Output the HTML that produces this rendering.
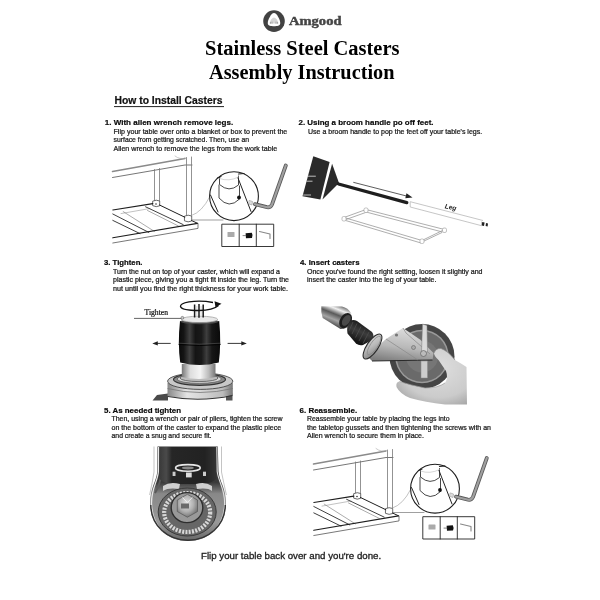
<!DOCTYPE html>
<html><head><meta charset="utf-8"><style>
html,body{margin:0;padding:0;background:#fff;width:600px;height:600px;overflow:hidden}
svg{display:block;filter:grayscale(1)}
</style></head><body>
<svg width="600" height="600" viewBox="0 0 600 600">
<rect width="600" height="600" fill="#fff"/>
<defs>
<linearGradient id="gMetalV" x1="0" y1="0" x2="1" y2="0">
 <stop offset="0" stop-color="#777"/><stop offset="0.25" stop-color="#ddd"/><stop offset="0.55" stop-color="#f4f4f4"/><stop offset="0.8" stop-color="#bbb"/><stop offset="1" stop-color="#777"/>
</linearGradient>
<linearGradient id="gRubber" x1="0" y1="0" x2="1" y2="0">
 <stop offset="0" stop-color="#0a0a0a"/><stop offset="0.12" stop-color="#151515"/><stop offset="0.26" stop-color="#404040"/><stop offset="0.4" stop-color="#141414"/><stop offset="0.55" stop-color="#1a1a1a"/><stop offset="0.67" stop-color="#3e3e3e"/><stop offset="0.8" stop-color="#161616"/><stop offset="1" stop-color="#0a0a0a"/>
</linearGradient>
<linearGradient id="gS5side" x1="0" y1="0" x2="1" y2="0">
 <stop offset="0" stop-color="#f2f2f2"/><stop offset="0.06" stop-color="#555"/><stop offset="0.18" stop-color="#8a8a8a"/><stop offset="0.5" stop-color="#777"/><stop offset="0.82" stop-color="#8a8a8a"/><stop offset="0.94" stop-color="#555"/><stop offset="1" stop-color="#eee"/>
</linearGradient>
<linearGradient id="gDrum" x1="0" y1="0" x2="1" y2="0">
 <stop offset="0" stop-color="#888"/><stop offset="0.3" stop-color="#e4e4e4"/><stop offset="0.6" stop-color="#d0d0d0"/><stop offset="0.85" stop-color="#bbb"/><stop offset="1" stop-color="#777"/>
</linearGradient>
</defs>

<!-- step 1 table drawing -->
<g id="tbl" fill="none" stroke-linecap="round" stroke-linejoin="round">
 <path d="M112.5,171.5 L185,158.5" stroke="#8a8a8a" stroke-width="1.5"/>
 <path d="M112.5,177.5 L185,165 L192,165" stroke="#666" stroke-width="0.9"/>
 <path d="M175,156 Q180,160 185.5,158" stroke="#aaa" stroke-width="0.6"/>
 <path d="M154.5,169.5 V201 M159.5,168.5 V201" stroke="#777" stroke-width="0.8"/>
 <path d="M186.5,157.5 V215.5 M191.5,157 V215.5" stroke="#777" stroke-width="0.8"/>
 <path d="M153,201 Q156.3,199.3 159.7,201 V205.8 Q156.3,207.6 153,205.8 Z" stroke="#444" stroke-width="0.8" fill="#fff"/>
 <circle cx="156" cy="204" r="0.8" fill="#333" stroke="none"/>
 <path d="M184.8,216 Q188.2,214.3 191.7,216 V221 Q188.2,222.8 184.8,221 Z" stroke="#444" stroke-width="0.8" fill="#fff"/>
 <!-- frame -->
 <path d="M112.8,210 L152.8,203.6" stroke="#1e1e1e" stroke-width="1.1"/>
 <path d="M121,213.6 L150,208.5" stroke="#999" stroke-width="0.6"/>
 <path d="M112.8,214 L148.8,232.4" stroke="#2a2a2a" stroke-width="0.9"/>
 <path d="M112.8,220.4 L140,233.6" stroke="#2a2a2a" stroke-width="0.9"/>
 <path d="M123.2,211.6 L154.4,231.4" stroke="#888" stroke-width="0.7"/>
 <path d="M145.6,206.8 L183.2,224.6" stroke="#2a2a2a" stroke-width="0.9"/>
 <path d="M147.5,210.5 L178.4,226" stroke="#888" stroke-width="0.7"/>
 <path d="M159.5,205 L184.8,217.2 M191.5,220.5 L197.5,223.3" stroke="#1e1e1e" stroke-width="1"/>
 <path d="M112.8,237.8 L197.5,223.4" stroke="#1e1e1e" stroke-width="1.15"/>
 <path d="M112.8,243 L198,228.4 L198,223.6" stroke="#555" stroke-width="0.8"/>
 <!-- zoom connectors -->
 <path d="M191.5,215.5 Q202,212 209.6,197" stroke="#999" stroke-width="0.6"/>
 <path d="M192,220 H223" stroke="#777" stroke-width="0.7"/>
 <!-- zoom circle -->
 <circle cx="234" cy="196.2" r="24.4" fill="#fff" stroke="#1e1e1e" stroke-width="1.1"/>
 <path d="M219.5,177.5 V184.5 Q229,193 238.5,185 V176" stroke="#333" stroke-width="0.9"/>
 <path d="M219.5,178.5 Q229,182 238.5,177" stroke="#bbb" stroke-width="0.6"/>
 <path d="M219,185 V198 Q229,209.5 239.5,199 V186" stroke="#333" stroke-width="0.9"/>
 <path d="M217.5,178 L221,176.5 M238.5,174 L244,173.5" stroke="#222" stroke-width="1.2"/>
 <path d="M238,178 L251,211.5" stroke="#222" stroke-width="1"/>
 <path d="M210.5,195 L218,212" stroke="#222" stroke-width="1"/>
 <circle cx="239" cy="197.5" r="1.9" fill="#111" stroke="none"/>
 <path d="M249.5,200.5 L252.5,201.5 L252,205 L249,204 Z" stroke="#999" stroke-width="0.6" fill="#ddd"/>
 <!-- allen key -->
 <path d="M285.8,165.5 L272,204.5 Q270.5,207.8 267,207.2 L255,204.2" stroke="#5a5a5a" stroke-width="3.8"/>
 <path d="M285.8,165.5 L272,204.5 Q270.5,207.8 267,207.2 L255,204.2" stroke="#a0a0a0" stroke-width="2.2"/>
 <!-- 3 cell box -->
 <path d="M222.2,224.2 H273.7 V246.5 H222.2 Z M239.2,224.2 V246.5 M256.3,224.2 V246.5" stroke="#222" stroke-width="0.9"/>
 <rect x="227.5" y="232" width="7" height="5" fill="#aaa" stroke="none" rx="0.6"/>
 <path d="M245.6,233.2 L251.8,232.8 Q253.3,235.5 252,238 L246,238.2 Z" fill="#111" stroke="none"/>
 <path d="M243,235.6 H245.8" stroke="#666" stroke-width="0.8"/>
 <path d="M259.5,231.5 L270,234 L270,238.5" stroke="#888" stroke-width="1.1"/>
</g>
<use href="#tbl" transform="translate(201,292.5)"/>

<!-- step 2 broom -->
<g>
 <path d="M313.3,156.2 L329.6,162 L320.4,199.5 L302.5,196.2 Z" fill="#2a2a2a"/>
 <path d="M307,176.2 H315.8 M306.5,181.2 H312.5 M303.2,195 H311" stroke="#e4e4e4" stroke-width="0.8"/>
 <path d="M332.1,163.7 L339,183 L322.5,199.5 Z" fill="#2a2a2a"/>
 <path d="M338.5,184 L406.8,202.6" stroke="#1e1e1e" stroke-width="3.3" stroke-linecap="round"/>
 <path d="M353.3,182.3 L408,196.4" stroke="#333" stroke-width="0.8"/>
 <path d="M412.5,197.6 L406.5,193.3 L405.3,198.2 Z" fill="#222"/>
 <!-- leg tube -->
 <path d="M410.2,201.7 L483,220.5 M410.2,207 L481.5,225.7 M410.2,201.7 V207" stroke="#b8b8b8" stroke-width="0.8" fill="none"/>
 <path d="M481.5,221.5 L481.5,225.7" stroke="#bbb" stroke-width="0.8"/>
 <path d="M482.2,222 L484.6,222.6 L484,226 L481.8,225.4 Z M486,223 L488,223.5 L487.6,226.6 L485.6,226.1 Z" fill="#222"/>
 <text x="444.8" y="209.3" font-size="6.6" font-style="italic" font-weight="bold" fill="#222" transform="rotate(11 450 207)" style="font-family:'Liberation Sans',sans-serif">Leg</text>
 <!-- frame -->
 <g fill="none" stroke="#999" stroke-width="0.8">
  <path d="M366,209.5 L444.5,229.5 M366,212 L442.5,232"/>
  <path d="M344,217.5 L422,240.5 M344,220 L421,243"/>
  <path d="M366,209.5 L344,217.5 M367,212 L346,219.5"/>
  <path d="M444.5,229.5 L422,240.5 M442,232.5 L423,241.5"/>
 </g>
 <g fill="#fff" stroke="#999" stroke-width="0.6">
  <rect x="364" y="208" width="4" height="4.5" rx="1.5"/>
  <rect x="342" y="216.5" width="4" height="4.5" rx="1.5"/>
  <rect x="420" y="239" width="4" height="4.5" rx="1.5"/>
  <rect x="442.5" y="228" width="4" height="4.5" rx="1.5"/>
 </g>
</g>

<!-- logo -->
<circle cx="274" cy="21.1" r="10.8" fill="#424242"/>
<path d="M274,13 C275.6,13 276.8,14.5 278.2,17 C279.6,19.5 280.5,21.8 280.2,23.8 C279.8,25.8 277,26.2 274,26.2 C271,26.2 268.2,25.8 267.8,23.8 C267.5,21.8 268.4,19.5 269.8,17 C271.2,14.5 272.4,13 274,13 Z" fill="#fff"/>
<path d="M269.5,23.5 Q270.5,18.5 274,17.5 Q277.5,18.5 278.5,23.5 Z" fill="#d6d6d6"/>
<path d="M270.5,22 V23.8 M272,21.6 V23.8 M276,21.6 V23.8 M277.5,22 V23.8" stroke="#888" stroke-width="0.6"/>
<!-- step 3 caster -->
<g>
 <path d="M152.5,400.5 L157,395 L168,393.5 L168,400.5 Z" fill="#4a4a4a"/>
 <path d="M226,395 L232.5,393.5 L232.5,400.5 L226,400.5 Z" fill="#555"/>
 <path d="M167.5,383 H232.8 V395 Q200,402.5 167.5,396 Z" fill="url(#gDrum)"/>
 <path d="M167.5,388.5 Q200,396.5 232.8,388.5" stroke="#777" stroke-width="0.8" fill="none"/>
 <path d="M168,396.5 Q200,402.5 232.5,395.5" stroke="#333" stroke-width="1.2" fill="none"/>
 <ellipse cx="200.2" cy="381.2" rx="32.6" ry="8.2" fill="#c8c8c8" stroke="#444" stroke-width="0.9"/>
 <ellipse cx="199.5" cy="379.5" rx="26" ry="5.8" fill="#8a8a8a" stroke="#333" stroke-width="1.2"/>
 <ellipse cx="199.3" cy="379" rx="22" ry="4.4" fill="#d4d4d4" stroke="#555" stroke-width="0.7"/>
 <ellipse cx="199" cy="378" rx="19" ry="3.6" fill="#bbb" stroke="#555" stroke-width="0.8"/>
 <path d="M181.8,364 H215.5 V377 Q198.6,381 181.8,377 Z" fill="url(#gMetalV)"/>
 <!-- barrel -->
 <path d="M180,321 Q199.5,325.5 219.2,321 Q221.4,343 218.8,362.5 Q199.5,367.5 180.2,362.5 Q177.6,343 180,321 Z" fill="url(#gRubber)"/>
 <path d="M178.6,344.5 Q199.5,346.5 220.6,344.5" stroke="#000" stroke-width="0.9" fill="none"/>
 <path d="M178.6,343.2 Q199.5,345.2 220.6,343.2" stroke="#555" stroke-width="0.6" fill="none"/>
 <!-- top plate -->
 <ellipse cx="199.5" cy="321.4" rx="19" ry="2.8" fill="#4a4a4a"/>
 <ellipse cx="199.5" cy="319.4" rx="18.2" ry="3.2" fill="#e8e8e8" stroke="#888" stroke-width="0.6"/>
 <!-- screws -->
 <path d="M194.6,304.5 V317.5 M199,304 V317.8 M203.2,304.5 V317.5" stroke="#1a1a1a" stroke-width="1.5"/>
 <path d="M196.8,306 V316.5 M201.1,306 V316.5" stroke="#ddd" stroke-width="1.2"/>
 <!-- rotation ellipse -->
 <path d="M213,302.5 Q201,300 189,301.8 Q180,303.5 180.5,306.5 Q181.5,310.5 199,310.5 Q213,310.3 218.5,305.5" stroke="#111" stroke-width="1.3" fill="none"/>
 <path d="M221.5,303.8 L214.5,301.2 L215.5,307.2 Z" fill="#111"/>
 <!-- leader -->
 <path d="M134,318.4 H181" stroke="#222" stroke-width="0.7"/>
 <circle cx="182.4" cy="317.8" r="1.4" fill="#ccc" stroke="#444" stroke-width="0.5"/>
 <text x="144.5" y="314.6" font-size="7.2" fill="#111" stroke="#111" stroke-width="0.2" textLength="23.5" lengthAdjust="spacingAndGlyphs" style="font-family:'Liberation Serif',serif">Tighten</text>
 <!-- arrows -->
 <path d="M156,343.4 H170.7 M227.6,343.4 H243" stroke="#222" stroke-width="0.9"/>
 <path d="M152.3,343.4 L157.8,341.2 L157.8,345.6 Z M246.8,343.4 L241.3,341.2 L241.3,345.6 Z" fill="#222"/>
</g>
<!-- step 4 caster photo -->
<defs>
<linearGradient id="gT4" gradientUnits="userSpaceOnUse" x1="336" y1="304" x2="328" y2="324">
 <stop offset="0" stop-color="#777"/><stop offset="0.2" stop-color="#f0f0f0"/><stop offset="0.45" stop-color="#5a5a5a"/><stop offset="0.7" stop-color="#a5a5a5"/><stop offset="0.9" stop-color="#666"/><stop offset="1" stop-color="#444"/>
</linearGradient>
<linearGradient id="gStem2" gradientUnits="userSpaceOnUse" x1="360" y1="324" x2="353" y2="340">
 <stop offset="0" stop-color="#222"/><stop offset="0.4" stop-color="#3c3c3c"/><stop offset="1" stop-color="#151515"/>
</linearGradient>
<linearGradient id="gBr" gradientUnits="userSpaceOnUse" x1="400" y1="328" x2="395" y2="362">
 <stop offset="0" stop-color="#dcdcdc"/><stop offset="0.55" stop-color="#b8b8b8"/><stop offset="1" stop-color="#7e7e7e"/>
</linearGradient>
<linearGradient id="gCone4" gradientUnits="userSpaceOnUse" x1="384" y1="334" x2="372" y2="362">
 <stop offset="0" stop-color="#e4e4e4"/><stop offset="0.5" stop-color="#bbb"/><stop offset="1" stop-color="#666"/>
</linearGradient>
<radialGradient id="gHand" cx="0.6" cy="0.35" r="0.75">
 <stop offset="0" stop-color="#dedede"/><stop offset="0.7" stop-color="#cbcbcb"/><stop offset="1" stop-color="#a8a8a8"/>
</radialGradient>
<linearGradient id="gTubeC" x1="0" y1="0" x2="0" y2="1">
 <stop offset="0" stop-color="#6a6a6a"/><stop offset="0.3" stop-color="#e6e6e6"/><stop offset="0.45" stop-color="#f6f6f6"/><stop offset="0.75" stop-color="#999"/><stop offset="1" stop-color="#555"/>
</linearGradient>
<linearGradient id="gStem" x1="0" y1="0" x2="0" y2="1">
 <stop offset="0" stop-color="#1a1a1a"/><stop offset="0.35" stop-color="#555"/><stop offset="0.55" stop-color="#2a2a2a"/><stop offset="1" stop-color="#111"/>
</linearGradient>
</defs>
<g>
 <!-- wheel -->
 <circle cx="422" cy="356.5" r="32.5" fill="#454545"/>
 <circle cx="422" cy="356.5" r="26.8" fill="#9a9a9a"/>
 <circle cx="422" cy="356.5" r="25.3" fill="#6a6a6a"/>
 <circle cx="422" cy="356.5" r="16" fill="#767676"/>
 <!-- tube -->
 <path d="M321.3,306.3 L342,306.6 Q348,308 351,313 Q353,319 351,324 Q347.5,329 340.5,329 L322.7,318 Q320.6,312 321.3,306.3 Z" fill="url(#gT4)"/>
 <ellipse cx="345.6" cy="320.6" rx="5.6" ry="8.2" transform="rotate(32 345.6 320.6)" fill="#1e1e1e"/>
 <ellipse cx="346.3" cy="320.4" rx="3.6" ry="6" transform="rotate(32 346.3 320.4)" fill="#4a4a4a"/>
 <!-- stem -->
 <path d="M350.5,320.5 Q354,319.5 357,321 L372,332 Q375,336 372,340 L363,345 Q359,346 356,343.5 L347.5,333.5 Q346,326 350.5,320.5 Z" fill="url(#gStem2)"/>
 <path d="M353,322 L349,331 M357,323.5 L352,334 M361,326.5 L355.5,337.5 M365,329.5 L359,341 M369,332 L363,343.5" stroke="#4e4e4e" stroke-width="0.8"/>
 <!-- bracket / cone -->
 <path d="M367,356 L386,339 L403,328 L420,339.5 L433.5,353 L432.5,360 L372,361 Z" fill="url(#gBr)"/>
 <path d="M372,361 L432.5,360" stroke="#2a2a2a" stroke-width="1.1"/>
 <path d="M386,339 L418,360 M403,328 L406,333 L430,354" stroke="#888" stroke-width="0.7" fill="none"/>
 <ellipse cx="372.5" cy="346.5" rx="14.6" ry="5.6" transform="rotate(-56 372.5 346.5)" fill="url(#gCone4)" stroke="#2a2a2a" stroke-width="1.1"/>
 <ellipse cx="374" cy="345.5" rx="11" ry="3.6" transform="rotate(-56 374 345.5)" fill="none" stroke="#888" stroke-width="0.7"/>
 <circle cx="396.5" cy="335" r="1.6" fill="#777"/>
 <circle cx="413.5" cy="347.5" r="2" fill="#aaa" stroke="#555" stroke-width="0.5"/>
 <!-- brake lever -->
 <path d="M422.5,324 L427,325.5 L427.5,352 L421.5,352 Z" fill="#dadada" stroke="#777" stroke-width="0.5"/>
 <circle cx="423.5" cy="353.5" r="3" fill="#bbb" stroke="#555" stroke-width="0.6"/>
 <rect x="421" y="361" width="6.5" height="17" fill="#cdcdcd" stroke="#888" stroke-width="0.5"/>
 <!-- hand -->
 <path d="M434,353 Q436,348 441,348.5 Q448,351 455,360 Q462,364 466.5,367 L467,404.5 L445,404.5 Q425,402 410,398 Q400,394 396.5,387 Q395.5,382 399.5,381.5 Q410,385 425,388 Q438,388 445,383 Q448.5,378 446,371 L438.5,360 Q434,356 434,353 Z" fill="url(#gHand)"/>
 <path d="M434,353 Q436,348 441,348.5 Q448,351 455,360" stroke="#8a8a8a" stroke-width="0.7" fill="none"/>
 <path d="M399.5,381.5 Q410,385 425,388 Q438,388 445,383" stroke="#9a9a9a" stroke-width="0.7" fill="none"/>
</g>
<!-- step 5 photo -->
<defs>
<radialGradient id="gS5nut" cx="0.45" cy="0.4" r="0.6">
 <stop offset="0" stop-color="#e4e4e4"/><stop offset="0.6" stop-color="#b0b0b0"/><stop offset="1" stop-color="#777"/>
</radialGradient>
<linearGradient id="gS5top" x1="0" y1="0" x2="1" y2="0">
 <stop offset="0" stop-color="#3a3a3a"/><stop offset="0.12" stop-color="#4a4a4a"/><stop offset="0.22" stop-color="#262626"/><stop offset="0.8" stop-color="#222"/><stop offset="1" stop-color="#333"/>
</linearGradient>
<linearGradient id="gS5v" x1="0" y1="0" x2="0" y2="1">
 <stop offset="0" stop-color="#333"/><stop offset="0.38" stop-color="#3a3a3a"/><stop offset="0.5" stop-color="#888"/><stop offset="0.8" stop-color="#999"/><stop offset="1" stop-color="#666"/>
</linearGradient>
<linearGradient id="gS5shell" x1="0" y1="0" x2="1" y2="0">
 <stop offset="0" stop-color="#fafafa"/><stop offset="0.04" stop-color="#444"/><stop offset="0.1" stop-color="#999"/><stop offset="0.2" stop-color="#777"/><stop offset="0.5" stop-color="#8a8a8a"/><stop offset="0.8" stop-color="#777"/><stop offset="0.9" stop-color="#aaa"/><stop offset="0.96" stop-color="#444"/><stop offset="1" stop-color="#f4f4f4"/>
</linearGradient>
</defs>
<g>
 <path d="M157.5,446.5 L217.8,446.5 L218.5,471.5 C219.5,482 226,488 226,503 C226,526 209,541 188,541 C167,541 150,526 150,503 C150,488 156.3,482 157.3,471.5 Z" fill="url(#gS5v)"/>
 <path d="M158.6,447 L158.4,471.5 C157.5,482 151.5,488 151.5,503 C151.5,515 156,525 163,532" stroke="#e8e8e8" stroke-width="1.3" fill="none"/>
 <path d="M216.8,447 L217.2,471.5 C218.5,482 224.6,488 224.6,503 C224.6,515 220,525 213,532" stroke="#e0e0e0" stroke-width="1.1" fill="none"/>
 <path d="M161,449 L161,475 Q160,485 155,493" stroke="#5a5a5a" stroke-width="2" fill="none"/>
 <path d="M154,446.5 L154,472 Q152.5,482 149.6,495" stroke="#aaa" stroke-width="0.7" fill="none"/>
 <path d="M221.5,446.5 L221.5,472 Q223.5,482 226.4,495" stroke="#aaa" stroke-width="0.7" fill="none"/>
 <path d="M150.8,505 C151,526 168,540.3 188,540.3 C208,540.3 225,526 225.3,505" stroke="#333" stroke-width="1.4" fill="none"/>
 <path d="M159.5,447 L216,447 L216,479 Q212,484 200,484 L175,484 Q163,484 159.5,479 Z" fill="url(#gS5top)"/>
 <ellipse cx="187.9" cy="467.9" rx="12.4" ry="3.3" fill="none" stroke="#e6e6e6" stroke-width="1.6"/>
 <ellipse cx="187.9" cy="467.9" rx="6" ry="1.5" fill="#888"/>
 <rect x="172.6" y="471.7" width="2.9" height="4.3" fill="#ccc"/>
 <rect x="186" y="472.5" width="5.7" height="4.9" fill="#ddd"/>
 <rect x="203" y="471.7" width="3" height="4.3" fill="#ccc"/>
 <path d="M163,486 Q170,481 180,484 L179,489 Q168,487.5 163,491 Z M212,486 Q205,481 196,484 L197,489 Q208,487.5 212,491 Z" fill="#cfcfcf"/>
 <ellipse cx="187.2" cy="512" rx="29" ry="24" fill="#666" stroke="#3a3a3a" stroke-width="1"/>
 <ellipse cx="187.2" cy="512.5" rx="23" ry="19.5" fill="none" stroke="#d8d8d8" stroke-width="4.2" stroke-dasharray="2 1.3"/>
 <ellipse cx="187" cy="507.6" rx="15.8" ry="15" fill="#999" stroke="#2e2e2e" stroke-width="1.4"/>
 <path d="M187.4,494.3 L197.5,500 L197.5,511.5 L187.4,517.2 L177.3,511.5 L177.3,500 Z" fill="url(#gS5nut)" stroke="#555" stroke-width="0.7"/>
 <rect x="181" y="503.5" width="8" height="5" fill="#6a6a6a"/>
 <path d="M182.5,497.5 L187.4,502.5 L192.3,497.5" stroke="#f0f0f0" stroke-width="0.9" fill="none"/>
</g>

<line x1="114" y1="106.6" x2="224" y2="106.6" stroke="#222" stroke-width="1"/>
<text x="289" y="24.5" font-size="13.5" font-weight="bold" textLength="52.5" lengthAdjust="spacingAndGlyphs" fill="#454545" stroke="#454545" stroke-width="0.45" style="font-family:'Liberation Serif',serif" >Amgood</text>
<text x="205" y="54.5" font-size="20" font-weight="bold" textLength="194.5" lengthAdjust="spacingAndGlyphs" fill="#000" style="font-family:'Liberation Serif',serif" >Stainless Steel Casters</text>
<text x="209" y="79" font-size="20" font-weight="bold" textLength="185.5" lengthAdjust="spacingAndGlyphs" fill="#000" style="font-family:'Liberation Serif',serif" >Assembly Instruction</text>
<text x="114.5" y="104.2" font-size="10.2" font-weight="bold" textLength="108" lengthAdjust="spacingAndGlyphs" fill="#111" stroke="#111" stroke-width="0.2" style="font-family:'Liberation Sans',sans-serif" >How to Install Casters</text>
<text x="104.75" y="125.25" font-size="8" font-weight="bold" textLength="128.4" lengthAdjust="spacingAndGlyphs" fill="#0a0a0a" stroke="#0a0a0a" stroke-width="0.2" style="font-family:'Liberation Sans',sans-serif" >1. With allen wrench remove legs.</text>
<text x="113.5" y="133.5" font-size="6.6" textLength="173.8" lengthAdjust="spacingAndGlyphs" fill="#1a1a1a" stroke="#1a1a1a" stroke-width="0.22" style="font-family:'Liberation Sans',sans-serif" >Flip your table over onto a blanket or box to prevent the</text>
<text x="113.5" y="142" font-size="6.6" textLength="135.5" lengthAdjust="spacingAndGlyphs" fill="#1a1a1a" stroke="#1a1a1a" stroke-width="0.22" style="font-family:'Liberation Sans',sans-serif" >surface from getting scratched. Then, use an</text>
<text x="113.5" y="150.5" font-size="6.6" textLength="163.8" lengthAdjust="spacingAndGlyphs" fill="#1a1a1a" stroke="#1a1a1a" stroke-width="0.22" style="font-family:'Liberation Sans',sans-serif" >Allen wrench to remove the legs from the work table</text>
<text x="298.5" y="125.25" font-size="8" font-weight="bold" textLength="135.0" lengthAdjust="spacingAndGlyphs" fill="#0a0a0a" stroke="#0a0a0a" stroke-width="0.2" style="font-family:'Liberation Sans',sans-serif" >2. Using a broom handle po off feet.</text>
<text x="308" y="133.5" font-size="6.6" textLength="174.2" lengthAdjust="spacingAndGlyphs" fill="#1a1a1a" stroke="#1a1a1a" stroke-width="0.22" style="font-family:'Liberation Sans',sans-serif" >Use a broom handle to pop the feet off your table&#39;s legs.</text>
<text x="104" y="264.75" font-size="8" font-weight="bold" textLength="38.5" lengthAdjust="spacingAndGlyphs" fill="#0a0a0a" stroke="#0a0a0a" stroke-width="0.2" style="font-family:'Liberation Sans',sans-serif" >3. Tighten.</text>
<text x="113" y="273.5" font-size="6.6" textLength="167" lengthAdjust="spacingAndGlyphs" fill="#1a1a1a" stroke="#1a1a1a" stroke-width="0.22" style="font-family:'Liberation Sans',sans-serif" >Turn the nut on top of your caster, which will expand a</text>
<text x="113" y="282" font-size="6.6" textLength="176" lengthAdjust="spacingAndGlyphs" fill="#1a1a1a" stroke="#1a1a1a" stroke-width="0.22" style="font-family:'Liberation Sans',sans-serif" >plastic piece, giving you a tight fit inside the leg. Turn the</text>
<text x="113" y="290.5" font-size="6.6" textLength="175" lengthAdjust="spacingAndGlyphs" fill="#1a1a1a" stroke="#1a1a1a" stroke-width="0.22" style="font-family:'Liberation Sans',sans-serif" >nut until you find the right thickness for your work table.</text>
<text x="300" y="265" font-size="8" font-weight="bold" textLength="59.5" lengthAdjust="spacingAndGlyphs" fill="#0a0a0a" stroke="#0a0a0a" stroke-width="0.2" style="font-family:'Liberation Sans',sans-serif" >4. Insert casters</text>
<text x="307" y="273.5" font-size="6.6" textLength="175.5" lengthAdjust="spacingAndGlyphs" fill="#1a1a1a" stroke="#1a1a1a" stroke-width="0.22" style="font-family:'Liberation Sans',sans-serif" >Once you&#39;ve found the right setting, loosen it slightly and</text>
<text x="307" y="282" font-size="6.6" textLength="129.5" lengthAdjust="spacingAndGlyphs" fill="#1a1a1a" stroke="#1a1a1a" stroke-width="0.22" style="font-family:'Liberation Sans',sans-serif" >insert the caster into the leg of your table.</text>
<text x="104" y="412.5" font-size="8" font-weight="bold" textLength="77" lengthAdjust="spacingAndGlyphs" fill="#0a0a0a" stroke="#0a0a0a" stroke-width="0.2" style="font-family:'Liberation Sans',sans-serif" >5. As needed tighten</text>
<text x="111.5" y="421" font-size="6.6" textLength="171.0" lengthAdjust="spacingAndGlyphs" fill="#1a1a1a" stroke="#1a1a1a" stroke-width="0.22" style="font-family:'Liberation Sans',sans-serif" >Then, using a wrench or pair of pliers, tighten the screw</text>
<text x="111.5" y="429.5" font-size="6.6" textLength="169.7" lengthAdjust="spacingAndGlyphs" fill="#1a1a1a" stroke="#1a1a1a" stroke-width="0.22" style="font-family:'Liberation Sans',sans-serif" >on the bottom of the caster to expand the plastic piece</text>
<text x="111.5" y="438" font-size="6.6" textLength="100.0" lengthAdjust="spacingAndGlyphs" fill="#1a1a1a" stroke="#1a1a1a" stroke-width="0.22" style="font-family:'Liberation Sans',sans-serif" >and create a snug and secure fit.</text>
<text x="299.5" y="412.5" font-size="8" font-weight="bold" textLength="57.7" lengthAdjust="spacingAndGlyphs" fill="#0a0a0a" stroke="#0a0a0a" stroke-width="0.2" style="font-family:'Liberation Sans',sans-serif" >6. Reassemble.</text>
<text x="307" y="421" font-size="6.6" textLength="142.5" lengthAdjust="spacingAndGlyphs" fill="#1a1a1a" stroke="#1a1a1a" stroke-width="0.22" style="font-family:'Liberation Sans',sans-serif" >Reassemble your table by placing the legs into</text>
<text x="307" y="429.5" font-size="6.6" textLength="184" lengthAdjust="spacingAndGlyphs" fill="#1a1a1a" stroke="#1a1a1a" stroke-width="0.22" style="font-family:'Liberation Sans',sans-serif" >the tabletop gussets and then tightening the screws with an</text>
<text x="307" y="438" font-size="6.6" textLength="117" lengthAdjust="spacingAndGlyphs" fill="#1a1a1a" stroke="#1a1a1a" stroke-width="0.22" style="font-family:'Liberation Sans',sans-serif" >Allen wrench to secure them in place.</text>
<text x="201" y="559.3" font-size="9" textLength="180.2" lengthAdjust="spacingAndGlyphs" fill="#1e1e1e" stroke="#1e1e1e" stroke-width="0.3" style="font-family:'Liberation Sans',sans-serif" >Flip your table back over and you&#39;re done.</text>
</svg>
</body></html>
